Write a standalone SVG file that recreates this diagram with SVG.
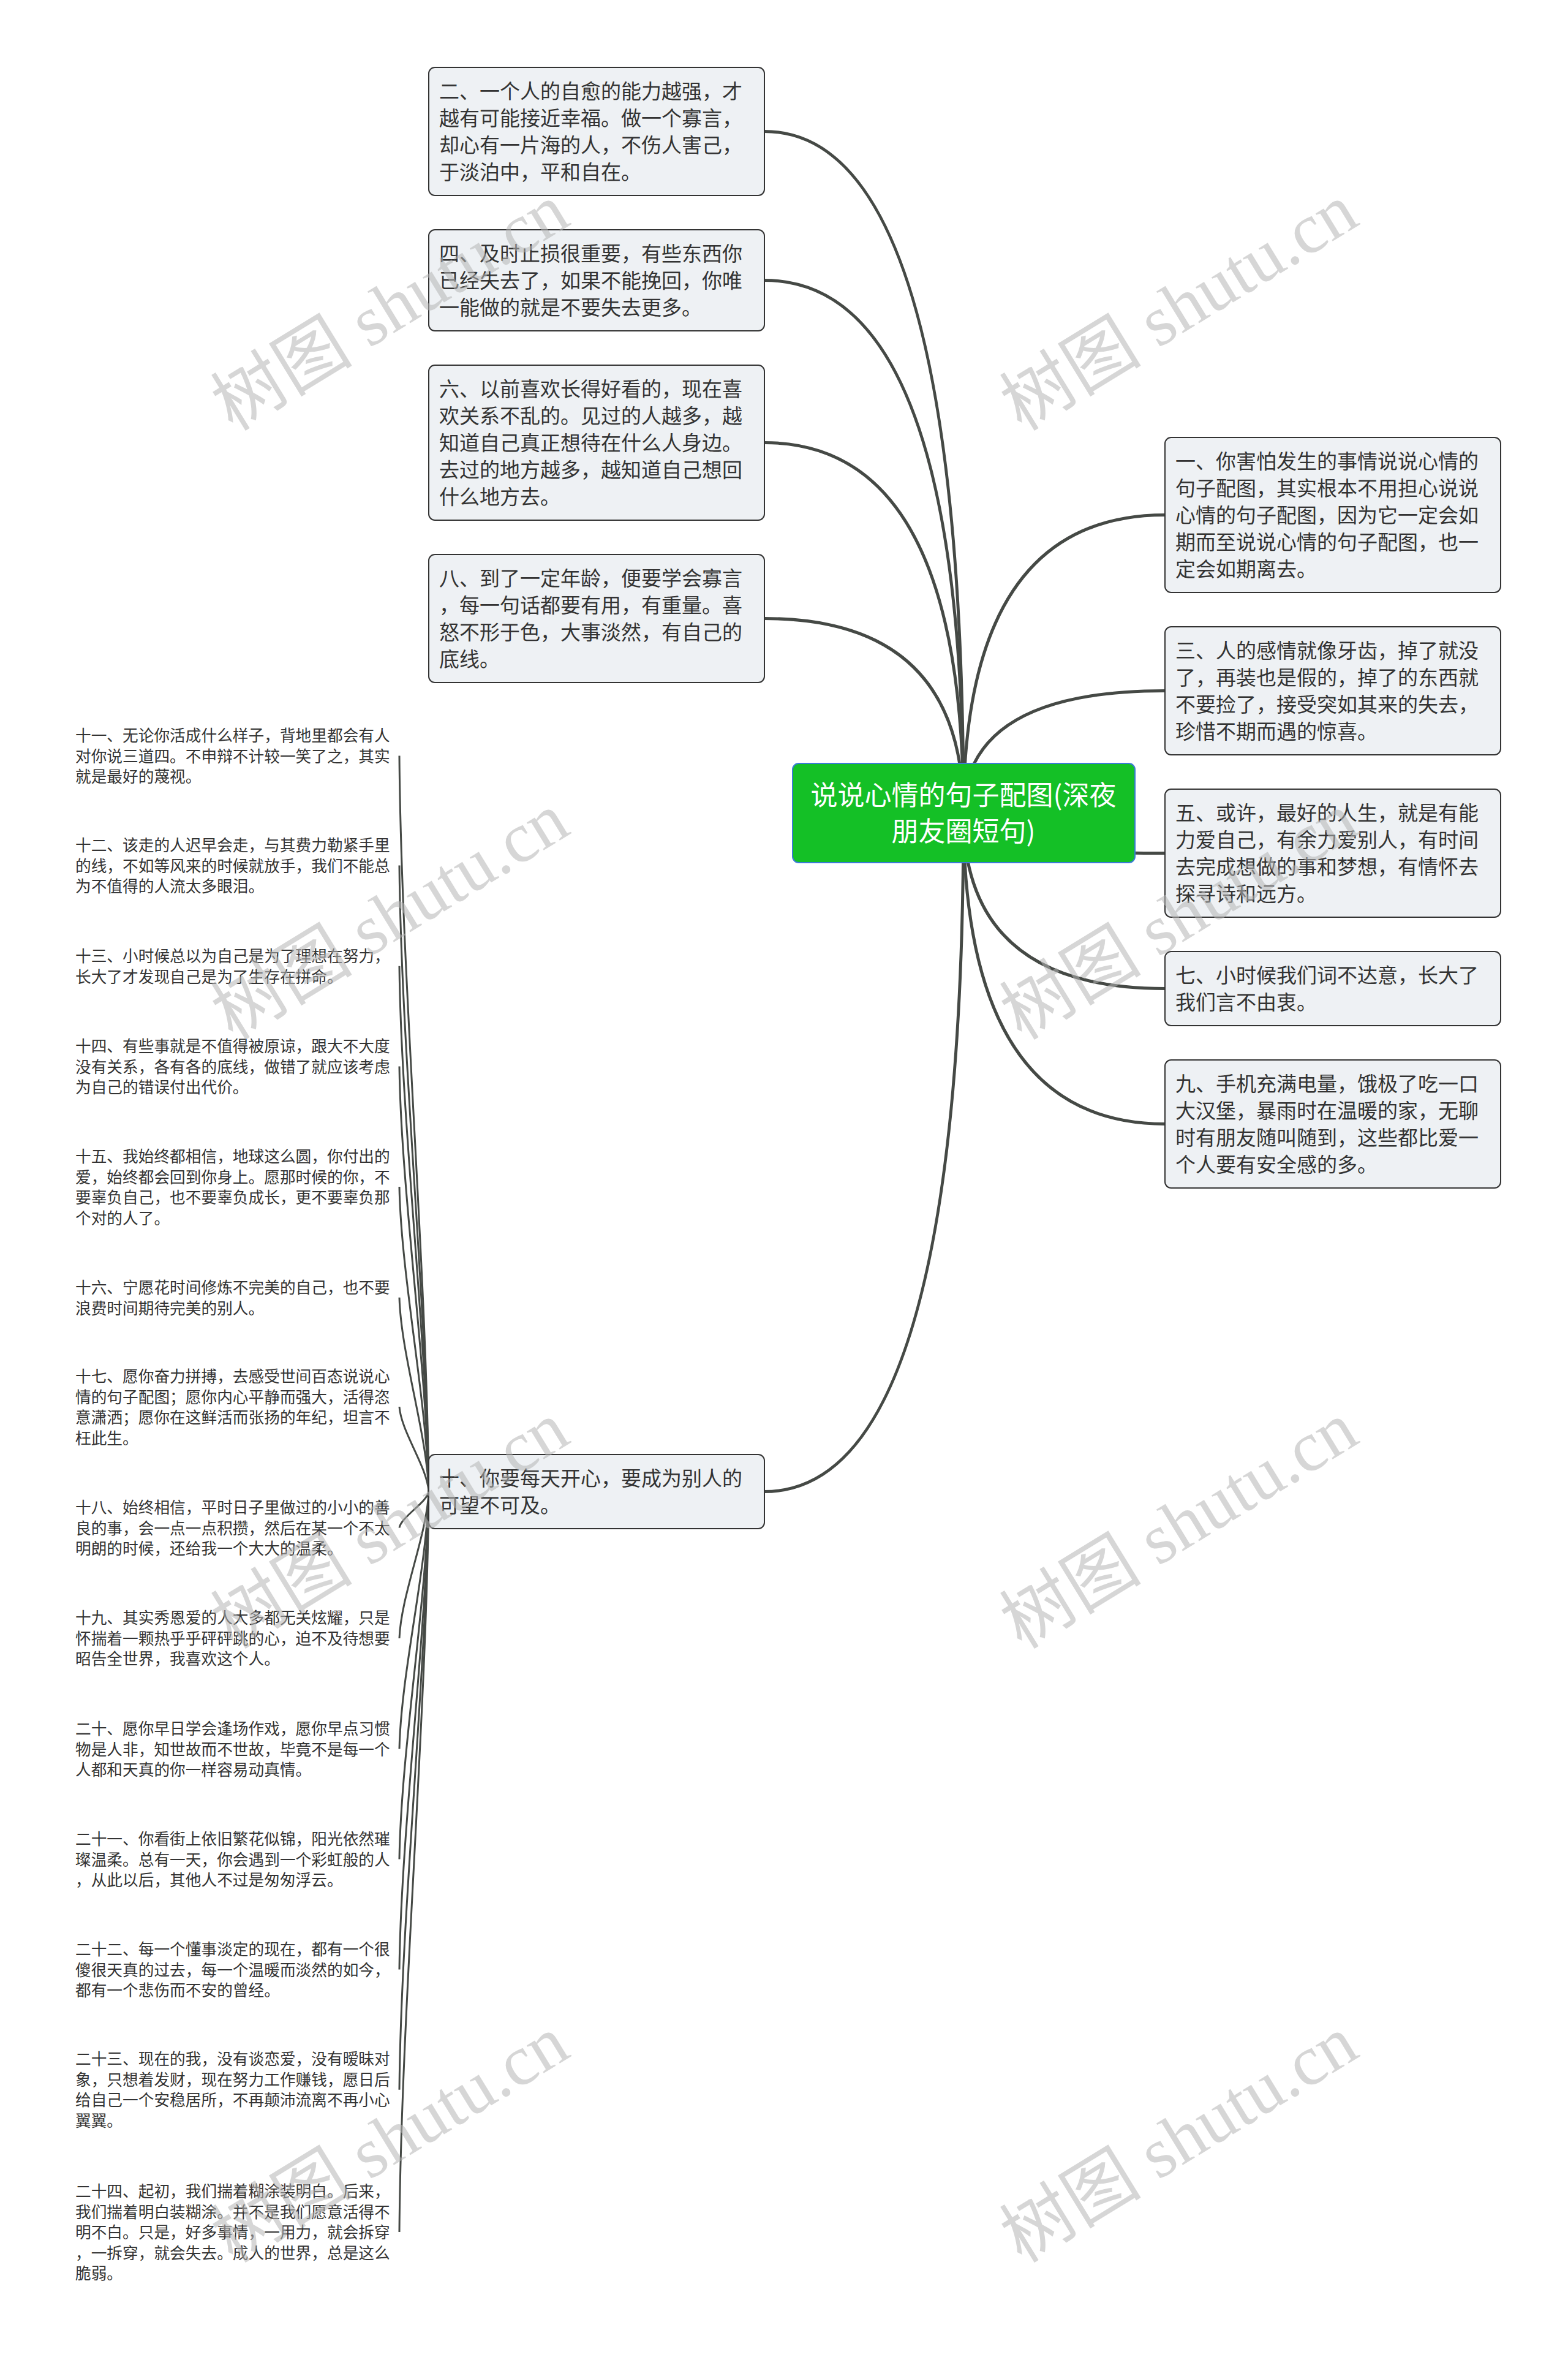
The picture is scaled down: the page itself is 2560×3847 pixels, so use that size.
<svg xmlns="http://www.w3.org/2000/svg" width="2560" height="3847" viewBox="0 0 2560 3847">
<style>
.bg{fill:#ffffff}
.main{fill:none;stroke:#454945;stroke-width:5}
.leafc{fill:none;stroke:#454945;stroke-width:3}
.box{fill:#eef1f4;stroke:#333333;stroke-width:2}
.root{fill:#14c026;stroke:#3a7bd5;stroke-width:2}
.t{font-family:"Noto Sans CJK SC","Noto Sans",sans-serif;font-size:33px;fill:#333333}
.rt{font-family:"Noto Sans CJK SC","Noto Sans",sans-serif;font-size:44px;fill:#ffffff;text-anchor:middle}
.lt{font-family:"Noto Sans CJK SC","Noto Sans",sans-serif;font-size:25.7px;fill:#333333}
.wm{font-family:"Liberation Serif","Noto Sans CJK SC",serif;font-size:116px;fill:#b4b4b4;fill-opacity:0.55}
</style>
<rect class="bg" x="0" y="0" width="2560" height="3847"/>
<g id="connectors">
<path class="main" d="M1573 1328 Q1573 214.5 1248 214.5"/>
<path class="main" d="M1573 1328 Q1573 457.5 1248 457.5"/>
<path class="main" d="M1573 1328 Q1573 722.5 1248 722.5"/>
<path class="main" d="M1573 1328 Q1573 1009.5 1248 1009.5"/>
<path class="main" d="M1573 1328 Q1573 2434.5 1248 2434.5"/>
<path class="main" d="M1573 1328 Q1573 840.5 1902 840.5"/>
<path class="main" d="M1573 1328 Q1573 1127.5 1902 1127.5"/>
<path class="main" d="M1573 1328 Q1573 1392.5 1902 1392.5"/>
<path class="main" d="M1573 1328 Q1573 1613.5 1902 1613.5"/>
<path class="main" d="M1573 1328 Q1573 1834.5 1902 1834.5"/>
<path class="leafc" d="M700 2434.5 C697 2074 655 1594 652 1233.5"/>
<path class="leafc" d="M700 2434.5 C697 2128 655 1719 652 1412.5"/>
<path class="leafc" d="M700 2434.5 C697 2177 655 1834 652 1576.75"/>
<path class="leafc" d="M700 2434.5 C697 2226 655 1949 652 1740.5"/>
<path class="leafc" d="M700 2434.5 C697 2285 655 2086 652 1937"/>
<path class="leafc" d="M700 2434.5 C697 2339 655 2213 652 2117.75"/>
<path class="leafc" d="M700 2434.5 C697 2393 655 2337 652 2296"/>
<path class="leafc" d="M700 2434.5 C697 2452 655 2476 652 2493.5"/>
<path class="leafc" d="M700 2434.5 C697 2506 655 2602 652 2674"/>
<path class="leafc" d="M700 2434.5 C697 2561 655 2728 652 2854.5"/>
<path class="leafc" d="M700 2434.5 C697 2615 655 2854 652 3034.5"/>
<path class="leafc" d="M700 2434.5 C697 2669 655 2980 652 3214.5"/>
<path class="leafc" d="M700 2434.5 C697 2727 655 3118 652 3410.75"/>
<path class="leafc" d="M700 2434.5 C697 2797 655 3281 652 3643"/>
</g>
<g id="root">
<rect class="root" x="1294" y="1246" width="559" height="162" rx="10"/>
<text class="rt" x="1573" y="1314">说说心情的句子配图(深夜</text>
<text class="rt" x="1573" y="1373">朋友圈短句)</text>
</g>
<g id="n2">
<rect class="box" x="700" y="110" width="548" height="209" rx="10"/>
<text class="t"><tspan x="717" y="161">二、一个人的自愈的能力越强，才</tspan><tspan x="717" y="205">越有可能接近幸福。做一个寡言，</tspan><tspan x="717" y="249">却心有一片海的人，不伤人害己，</tspan><tspan x="717" y="293">于淡泊中，平和自在。</tspan></text>
</g>
<g id="n4">
<rect class="box" x="700" y="375" width="548" height="165" rx="10"/>
<text class="t"><tspan x="717" y="426">四、及时止损很重要，有些东西你</tspan><tspan x="717" y="470">已经失去了，如果不能挽回，你唯</tspan><tspan x="717" y="514">一能做的就是不要失去更多。</tspan></text>
</g>
<g id="n6">
<rect class="box" x="700" y="596" width="548" height="253" rx="10"/>
<text class="t"><tspan x="717" y="647">六、以前喜欢长得好看的，现在喜</tspan><tspan x="717" y="691">欢关系不乱的。见过的人越多，越</tspan><tspan x="717" y="735">知道自己真正想待在什么人身边。</tspan><tspan x="717" y="779">去过的地方越多，越知道自己想回</tspan><tspan x="717" y="823">什么地方去。</tspan></text>
</g>
<g id="n8">
<rect class="box" x="700" y="905" width="548" height="209" rx="10"/>
<text class="t"><tspan x="717" y="956">八、到了一定年龄，便要学会寡言</tspan><tspan x="717" y="1000">，每一句话都要有用，有重量。喜</tspan><tspan x="717" y="1044">怒不形于色，大事淡然，有自己的</tspan><tspan x="717" y="1088">底线。</tspan></text>
</g>
<g id="n10">
<rect class="box" x="700" y="2374" width="548" height="121" rx="10"/>
<text class="t"><tspan x="717" y="2425">十、你要每天开心，要成为别人的</tspan><tspan x="717" y="2469">可望不可及。</tspan></text>
</g>
<g id="n1">
<rect class="box" x="1902" y="714" width="548" height="253" rx="10"/>
<text class="t"><tspan x="1919" y="765">一、你害怕发生的事情说说心情的</tspan><tspan x="1919" y="809">句子配图，其实根本不用担心说说</tspan><tspan x="1919" y="853">心情的句子配图，因为它一定会如</tspan><tspan x="1919" y="897">期而至说说心情的句子配图，也一</tspan><tspan x="1919" y="941">定会如期离去。</tspan></text>
</g>
<g id="n3">
<rect class="box" x="1902" y="1023" width="548" height="209" rx="10"/>
<text class="t"><tspan x="1919" y="1074">三、人的感情就像牙齿，掉了就没</tspan><tspan x="1919" y="1118">了，再装也是假的，掉了的东西就</tspan><tspan x="1919" y="1162">不要捡了，接受突如其来的失去，</tspan><tspan x="1919" y="1206">珍惜不期而遇的惊喜。</tspan></text>
</g>
<g id="n5">
<rect class="box" x="1902" y="1288" width="548" height="209" rx="10"/>
<text class="t"><tspan x="1919" y="1339">五、或许，最好的人生，就是有能</tspan><tspan x="1919" y="1383">力爱自己，有余力爱别人，有时间</tspan><tspan x="1919" y="1427">去完成想做的事和梦想，有情怀去</tspan><tspan x="1919" y="1471">探寻诗和远方。</tspan></text>
</g>
<g id="n7">
<rect class="box" x="1902" y="1553" width="548" height="121" rx="10"/>
<text class="t"><tspan x="1919" y="1604">七、小时候我们词不达意，长大了</tspan><tspan x="1919" y="1648">我们言不由衷。</tspan></text>
</g>
<g id="n9">
<rect class="box" x="1902" y="1730" width="548" height="209" rx="10"/>
<text class="t"><tspan x="1919" y="1781">九、手机充满电量，饿极了吃一口</tspan><tspan x="1919" y="1825">大汉堡，暴雨时在温暖的家，无聊</tspan><tspan x="1919" y="1869">时有朋友随叫随到，这些都比爱一</tspan><tspan x="1919" y="1913">个人要有安全感的多。</tspan></text>
</g>
<g id="n11"><text class="lt"><tspan x="123" y="1210">十一、无论你活成什么样子，背地里都会有人</tspan><tspan x="123" y="1243.5">对你说三道四。不申辩不计较一笑了之，其实</tspan><tspan x="123" y="1277">就是最好的蔑视。</tspan></text></g>
<g id="n12"><text class="lt"><tspan x="123" y="1389">十二、该走的人迟早会走，与其费力勒紧手里</tspan><tspan x="123" y="1422.5">的线，不如等风来的时候就放手，我们不能总</tspan><tspan x="123" y="1456">为不值得的人流太多眼泪。</tspan></text></g>
<g id="n13"><text class="lt"><tspan x="123" y="1570">十三、小时候总以为自己是为了理想在努力，</tspan><tspan x="123" y="1603.5">长大了才发现自己是为了生存在拼命。</tspan></text></g>
<g id="n14"><text class="lt"><tspan x="123" y="1717">十四、有些事就是不值得被原谅，跟大不大度</tspan><tspan x="123" y="1750.5">没有关系，各有各的底线，做错了就应该考虑</tspan><tspan x="123" y="1784">为自己的错误付出代价。</tspan></text></g>
<g id="n15"><text class="lt"><tspan x="123" y="1897">十五、我始终都相信，地球这么圆，你付出的</tspan><tspan x="123" y="1930.5">爱，始终都会回到你身上。愿那时候的你，不</tspan><tspan x="123" y="1964">要辜负自己，也不要辜负成长，更不要辜负那</tspan><tspan x="123" y="1997.5">个对的人了。</tspan></text></g>
<g id="n16"><text class="lt"><tspan x="123" y="2111">十六、宁愿花时间修炼不完美的自己，也不要</tspan><tspan x="123" y="2144.5">浪费时间期待完美的别人。</tspan></text></g>
<g id="n17"><text class="lt"><tspan x="123" y="2256">十七、愿你奋力拼搏，去感受世间百态说说心</tspan><tspan x="123" y="2289.5">情的句子配图；愿你内心平静而强大，活得恣</tspan><tspan x="123" y="2323">意潇洒；愿你在这鲜活而张扬的年纪，坦言不</tspan><tspan x="123" y="2356.5">枉此生。</tspan></text></g>
<g id="n18"><text class="lt"><tspan x="123" y="2470">十八、始终相信，平时日子里做过的小小的善</tspan><tspan x="123" y="2503.5">良的事，会一点一点积攒，然后在某一个不太</tspan><tspan x="123" y="2537">明朗的时候，还给我一个大大的温柔。</tspan></text></g>
<g id="n19"><text class="lt"><tspan x="123" y="2650">十九、其实秀恩爱的人大多都无关炫耀，只是</tspan><tspan x="123" y="2683.5">怀揣着一颗热乎乎砰砰跳的心，迫不及待想要</tspan><tspan x="123" y="2717">昭告全世界，我喜欢这个人。</tspan></text></g>
<g id="n20"><text class="lt"><tspan x="123" y="2831">二十、愿你早日学会逢场作戏，愿你早点习惯</tspan><tspan x="123" y="2864.5">物是人非，知世故而不世故，毕竟不是每一个</tspan><tspan x="123" y="2898">人都和天真的你一样容易动真情。</tspan></text></g>
<g id="n21"><text class="lt"><tspan x="123" y="3011">二十一、你看街上依旧繁花似锦，阳光依然璀</tspan><tspan x="123" y="3044.5">璨温柔。总有一天，你会遇到一个彩虹般的人</tspan><tspan x="123" y="3078">，从此以后，其他人不过是匆匆浮云。</tspan></text></g>
<g id="n22"><text class="lt"><tspan x="123" y="3191">二十二、每一个懂事淡定的现在，都有一个很</tspan><tspan x="123" y="3224.5">傻很天真的过去，每一个温暖而淡然的如今，</tspan><tspan x="123" y="3258">都有一个悲伤而不安的曾经。</tspan></text></g>
<g id="n23"><text class="lt"><tspan x="123" y="3370">二十三、现在的我，没有谈恋爱，没有暧昧对</tspan><tspan x="123" y="3403.5">象，只想着发财，现在努力工作赚钱，愿日后</tspan><tspan x="123" y="3437">给自己一个安稳居所，不再颠沛流离不再小心</tspan><tspan x="123" y="3470.5">翼翼。</tspan></text></g>
<g id="n24"><text class="lt"><tspan x="123" y="3586">二十四、起初，我们揣着糊涂装明白。后来，</tspan><tspan x="123" y="3619.5">我们揣着明白装糊涂。并不是我们愿意活得不</tspan><tspan x="123" y="3653">明不白。只是，好多事情，一用力，就会拆穿</tspan><tspan x="123" y="3686.5">，一拆穿，就会失去。成人的世界，总是这么</tspan><tspan x="123" y="3720">脆弱。</tspan></text></g>
<g id="watermarks">
<text class="wm" transform="translate(380 705) rotate(-31.5)">树图 shutu.cn</text>
<text class="wm" transform="translate(1668 705) rotate(-31.5)">树图 shutu.cn</text>
<text class="wm" transform="translate(380 1699) rotate(-31.5)">树图 shutu.cn</text>
<text class="wm" transform="translate(1668 1699) rotate(-31.5)">树图 shutu.cn</text>
<text class="wm" transform="translate(380 2693) rotate(-31.5)">树图 shutu.cn</text>
<text class="wm" transform="translate(1668 2693) rotate(-31.5)">树图 shutu.cn</text>
<text class="wm" transform="translate(380 3695) rotate(-31.5)">树图 shutu.cn</text>
<text class="wm" transform="translate(1668 3695) rotate(-31.5)">树图 shutu.cn</text>
</g>
</svg>
